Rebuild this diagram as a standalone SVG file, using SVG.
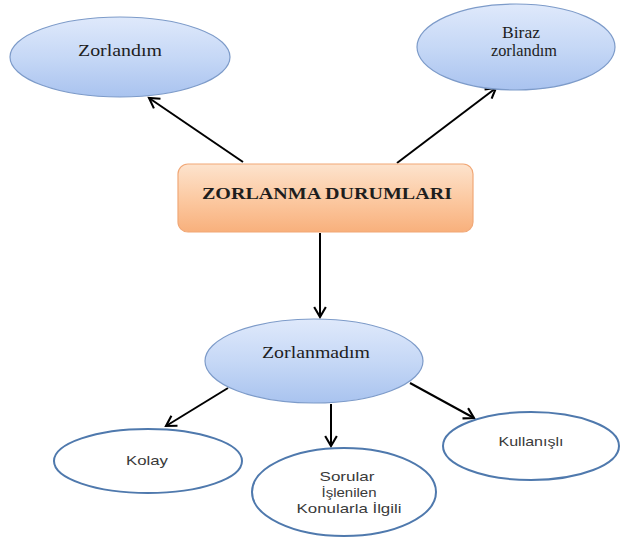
<svg xmlns="http://www.w3.org/2000/svg" width="623" height="538" viewBox="0 0 623 538">
<style>
.blue{fill:url(#gBlue);stroke:#7d9bc9;stroke-width:1.2}
.white{fill:#ffffff;stroke:#4f79ad;stroke-width:2}
.serif{font-family:"Liberation Serif","Times New Roman",serif;fill:#1e1e1e;text-anchor:middle}
.sans{font-family:"Liberation Sans",Arial,sans-serif;fill:#3a3a3a;text-anchor:middle}
.conn{stroke:#000;stroke-width:2;fill:none;marker-end:url(#arr)}
</style>
<defs>
<linearGradient id="gBlue" x1="0" y1="0" x2="0" y2="1">
<stop offset="0" stop-color="#dfe9fb"/>
<stop offset="0.5" stop-color="#c6d8f6"/>
<stop offset="1" stop-color="#a9c3ef"/>
</linearGradient>
<linearGradient id="gOrange" x1="0" y1="0" x2="0" y2="1">
<stop offset="0" stop-color="#fde3cd"/>
<stop offset="0.5" stop-color="#fccaa3"/>
<stop offset="1" stop-color="#f8b07c"/>
</linearGradient>
<marker id="arr" viewBox="0 0 12 12" refX="10" refY="6" markerWidth="7" markerHeight="7" orient="auto" markerUnits="strokeWidth">
<polyline points="1.5,1 10,6 1.5,11" fill="none" stroke="#000" stroke-width="1.8"/>
</marker>
</defs>
<g id="connectors">
<line class="conn" x1="243" y1="162" x2="149" y2="98"/>
<line class="conn" x1="397" y1="163" x2="496" y2="88"/>
<line class="conn" x1="320" y1="233" x2="320" y2="317"/>
<line class="conn" x1="228" y1="388" x2="166" y2="426"/>
<line class="conn" x1="331" y1="404" x2="331" y2="446"/>
<line class="conn" x1="410" y1="383" x2="474" y2="418"/>
</g>
<g id="zorlandim">
<ellipse class="blue" cx="120" cy="57" rx="110" ry="40"/>
<text class="serif" x="120" y="56" font-size="16" textLength="84" lengthAdjust="spacingAndGlyphs">Zorlandım</text>
</g>
<g id="biraz">
<ellipse class="blue" cx="516" cy="47" rx="99" ry="43"/>
<text class="serif" x="521" y="38" font-size="16" textLength="38" lengthAdjust="spacingAndGlyphs">Biraz</text>
<text class="serif" x="524" y="56" font-size="16" textLength="66" lengthAdjust="spacingAndGlyphs">zorlandım</text>
</g>
<g id="center">
<rect x="178" y="164" width="295" height="68" rx="10" ry="10" fill="url(#gOrange)" stroke="#f1a877" stroke-width="1.2"/>
<text class="serif" x="327" y="199" font-size="17" font-weight="bold" textLength="250" lengthAdjust="spacingAndGlyphs">ZORLANMA DURUMLARI</text>
</g>
<g id="zorlanmadim">
<ellipse class="blue" cx="314" cy="361" rx="109" ry="42"/>
<text class="serif" x="316" y="358" font-size="16" textLength="108" lengthAdjust="spacingAndGlyphs">Zorlanmadım</text>
</g>
<g id="kolay">
<ellipse class="white" cx="148" cy="461" rx="94" ry="32"/>
<text class="sans" x="147" y="465" font-size="13" textLength="42" lengthAdjust="spacingAndGlyphs">Kolay</text>
</g>
<g id="sorular">
<ellipse class="white" cx="344" cy="492" rx="92" ry="44"/>
<text class="sans" x="347" y="481" font-size="13" textLength="55" lengthAdjust="spacingAndGlyphs">Sorular</text>
<text class="sans" x="349" y="497" font-size="13" textLength="55" lengthAdjust="spacingAndGlyphs">İşlenilen</text>
<text class="sans" x="349" y="513" font-size="13" textLength="105" lengthAdjust="spacingAndGlyphs">Konularla İlgili</text>
</g>
<g id="kullanisli">
<ellipse class="white" cx="531" cy="446" rx="88" ry="34"/>
<text class="sans" x="531" y="446" font-size="13" textLength="65" lengthAdjust="spacingAndGlyphs">Kullanışlı</text>
</g>
</svg>
